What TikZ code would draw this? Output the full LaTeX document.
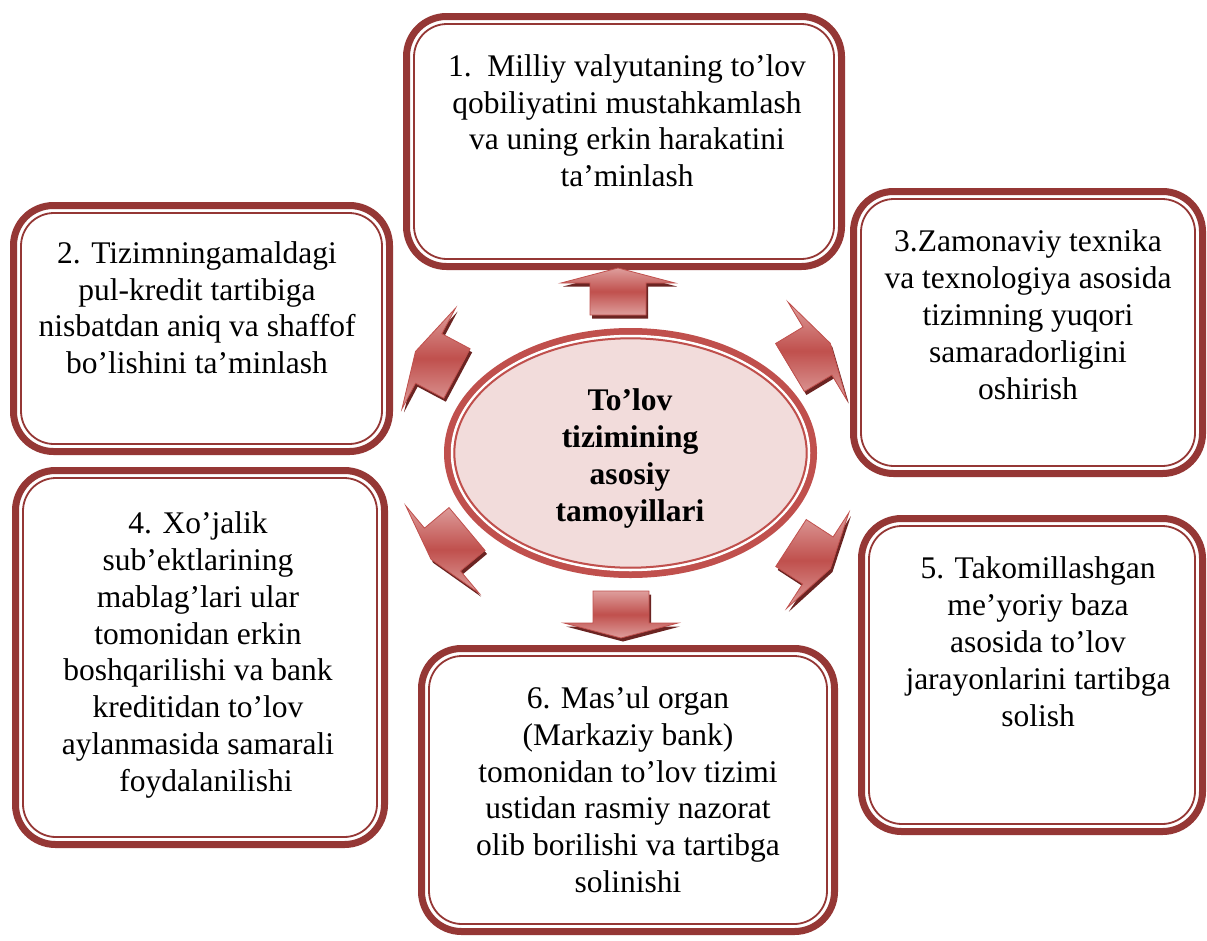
\documentclass[tikz,border=0pt]{standalone}
\usepackage{fontspec}
\setmainfont{Liberation Serif}
\usetikzlibrary{calc}

\definecolor{boxred}{HTML}{953735}
\definecolor{accred}{HTML}{C0504D}
\definecolor{lightred}{HTML}{DE9E9C}
\definecolor{pinkfill}{HTML}{F2DCDB}
\definecolor{shadowred}{HTML}{6B2422}

\tikzset{
  frame/.style={draw=boxred, line width=7pt, rounded corners=40pt, inner sep=0pt, outer sep=0pt},
  innerframe/.style={draw=boxred, line width=1.8pt, rounded corners=33pt},
  boxtext/.style={align=center, inner sep=0pt,
    font=\fontsize{31.5}{36.8}\selectfont,
    execute at begin node=\strut, execute at end node=\strut},
  centretext/.style={boxtext, font=\fontsize{31.5}{37}\selectfont\bfseries},
  arrowbody/.style={top color=lightred, bottom color=lightred, middle color=accred,
    draw=accred, line width=0.8pt, line join=miter},
  arrowshade/.style={fill=shadowred},
}

% framed box: name, centre x, centre y, width, height (of the thick frame's centre line)
\newcommand\framedbox[5]{%
  \node[frame, minimum width=#4, minimum height=#5] (#1) at (#2,#3) {};
  \draw[innerframe] ($(#1.south west)+(7.5,-7.5)$) rectangle ($(#1.north east)+(-7.5,7.5)$);
}

% block arrow: starting coordinate, direction angle
\newcommand\blockarrow[2]{%
  \begin{scope}[shift={($(#1)+(2,3.5)$)}, rotate=#2]
    \fill[arrowshade] (0,-28) -- (32,-28) -- (32,-57) -- (47,0) -- (32,57) -- (32,28) -- (0,28) -- cycle;
  \end{scope}
  \begin{scope}[shift={(#1)}, rotate=#2]
    \path[arrowbody] (0,-28) -- (32,-28) -- (32,-57) -- (47,0) -- (32,57) -- (32,28) -- (0,28) -- cycle;
  \end{scope}
}

\begin{document}
\begin{tikzpicture}[x=1pt, y=-1pt]
  \useasboundingbox[fill=white] (0,0) rectangle (1207,940);

  % six principle boxes
  \framedbox{b1}{624}{141.5}{435}{250}
  \framedbox{b2}{201.5}{328.5}{376}{246}
  \framedbox{b3}{1028}{332.5}{349}{282}
  \framedbox{b4}{200}{657.5}{369}{374}
  \framedbox{b5}{1032}{675}{341}{313}
  \framedbox{b6}{628}{790}{413}{283}

  \node[boxtext] (t1) at (627,126) {1.\ \ Milliy valyutaning to’lov\\qobiliyatini mustahkamlash\\va uning erkin harakatini\\ta’minlash};
  \node[boxtext] (t2) at (197,313) {2. Tizimningamaldagi\\pul-kredit tartibiga\\nisbatdan aniq va shaffof\\bo’lishini ta’minlash};
  \node[boxtext] (t3) at (1028,320) {3.Zamonaviy texnika\\va texnologiya asosida\\tizimning yuqori\\samaradorligini\\oshirish};
  \node[boxtext] (t4) at (198,657) {4. Xo’jalik\\sub’ektlarining\\mablag’lari ular\\tomonidan erkin\\boshqarilishi va bank\\kreditidan to’lov\\aylanmasida samarali\\\hspace*{0.5em}foydalanilishi};
  \node[boxtext] (t5) at (1038,647) {5. Takomillashgan\\me’yoriy baza\\asosida to’lov\\jarayonlarini tartibga\\solish};
  \node[boxtext] (t6) at (628,795) {6. Mas’ul organ\\(Markaziy bank)\\tomonidan to’lov tizimi\\ustidan rasmiy nazorat\\olib borilishi va tartibga\\solinishi};

  % central ellipse
  \coordinate (c) at (630.5,453);
  \fill[pinkfill] (c) ellipse [x radius=186, y radius=124.5];
  \draw[accred, line width=7pt] (c) ellipse [x radius=183, y radius=121.5];
  \draw[white, line width=2.5pt] (c) ellipse [x radius=178.5, y radius=117];
  \draw[accred, line width=2pt] (c) ellipse [x radius=176.2, y radius=114.7];
  \node[centretext] (centre) at (630,461) {To’lov\\tizimining\\asosiy\\tamoyillari};

  % arrows from the centre towards the boxes
  \coordinate (a1) at (618,315);
  \coordinate (a6) at (621,591);
  \coordinate (a2) at (457,373.5);
  \coordinate (a4) at (467,529);
  \coordinate (a3) at (790,367.5);
  \coordinate (a5) at (791,543);
  \blockarrow{a1}{90}
  \blockarrow{a6}{-90}
  \blockarrow{a2}{152}
  \blockarrow{a4}{220}
  \blockarrow{a3}{31}
  \blockarrow{a5}{-33}
\end{tikzpicture}
\end{document}
